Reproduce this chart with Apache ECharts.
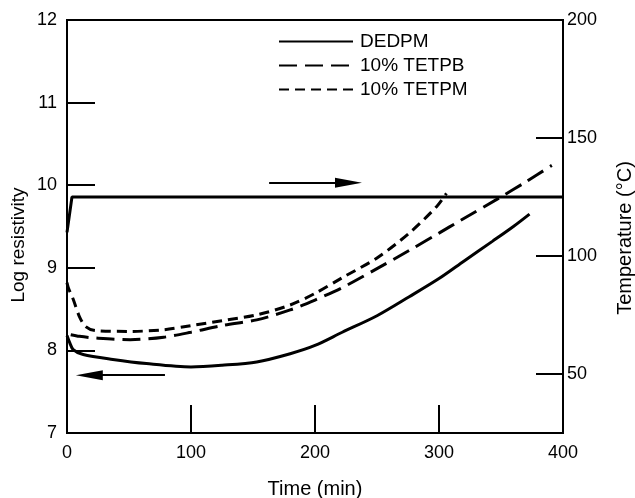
<!DOCTYPE html>
<html>
<head>
<meta charset="utf-8">
<script src="https://cdn.jsdelivr.net/npm/echarts@6/dist/echarts.min.js"></script>
<style>html,body{margin:0;padding:0;background:#fff}#c{width:635px;height:498px}</style>
</head>
<body>
<div id="c"></div>
<script>
// ---- data ----
const dedpmTime = [0, 2, 5, 13, 37, 64, 100, 125, 153, 180, 200, 222, 250, 276, 300, 320, 343, 360, 373];
const dedpmLog  = [8.18, 8.10, 8.01, 7.95, 7.89, 7.84, 7.80, 7.82, 7.86, 7.96, 8.06, 8.22, 8.42, 8.65, 8.87, 9.08, 9.32, 9.50, 9.65];

const tetpbTime = [3, 10, 23, 51, 78, 100, 125, 153, 180, 200, 222, 250, 276, 300, 317, 349, 370, 391];
const tetpbLog  = [8.19, 8.17, 8.15, 8.13, 8.16, 8.22, 8.30, 8.37, 8.49, 8.61, 8.76, 8.99, 9.21, 9.42, 9.57, 9.85, 10.04, 10.24];

const tetpmTime = [0, 1, 5, 10, 15, 23, 51, 78, 100, 125, 153, 180, 200, 222, 250, 276, 298, 306];
const tetpmLog  = [8.82, 8.76, 8.62, 8.41, 8.29, 8.24, 8.23, 8.25, 8.30, 8.36, 8.43, 8.55, 8.69, 8.88, 9.12, 9.42, 9.74, 9.90];

const tempTime = [0, 4, 400];
const tempC    = [110, 125, 125];

const seriesNames = ['DEDPM', '10% TETPB', '10% TETPM'];
const xTicks = [0, 100, 200, 300, 400];
const leftTicks = [7, 8, 9, 10, 11, 12];
const rightTicks = [50, 100, 150, 200];

// arrows (annotation): [tailTime, tipTime, level]
const arrowRight = [163, 227, 131];   // on temperature axis
const arrowLeft  = [79, 18, 7.70];    // on log resistivity axis

const zip = (a, b) => a.map((v, i) => [v, b[i]]);
const FONT = 'Liberation Sans, Arial, Helvetica, sans-serif';
const arrowSym = 'path://M5,0 L10,27 L0,27 Z';

const chart = echarts.init(document.getElementById('c'), null, {renderer: 'canvas'});
chart.setOption({
  animation: false,
  backgroundColor: '#fff',
  textStyle: {fontFamily: FONT, color: '#000'},
  grid: {left: 67, right: 72, top: 20, bottom: 65, containLabel: false, outerBoundsMode: 'none',
         show: true, borderColor: '#000', borderWidth: 2, backgroundColor: 'transparent'},
  legend: {
    data: seriesNames,
    orient: 'vertical',
    left: 278, top: 32,
    itemWidth: 74, itemHeight: 14, itemGap: 5,
    padding: 0,
    itemStyle: {opacity: 0},
    textStyle: {fontFamily: FONT, fontSize: 19, color: '#000', padding: [0, 0, 0, 2]}
  },
  xAxis: {
    type: 'value', min: 0, max: 400,
    name: 'Time (min)', nameLocation: 'middle', nameGap: 46,
    nameTextStyle: {fontFamily: FONT, fontSize: 20, color: '#000'},
    axisLine: {lineStyle: {color: '#000', width: 2}},
    axisTick: {inside: true, length: 28, lineStyle: {color: '#000', width: 2}, customValues: xTicks},
    axisLabel: {color: '#000', fontSize: 18, fontFamily: FONT, margin: 11, customValues: xTicks},
    splitLine: {show: false}
  },
  yAxis: [{
    type: 'value', min: 7, max: 12, position: 'left',
    axisLine: {show: true, lineStyle: {color: '#000', width: 2}},
    axisTick: {show: true, inside: true, length: 28, lineStyle: {color: '#000', width: 2}, customValues: leftTicks},
    axisLabel: {color: '#000', fontSize: 18, fontFamily: FONT, margin: 10, customValues: leftTicks},
    splitLine: {show: false}
  }, {
    type: 'value', min: 25, max: 200, position: 'right',
    axisLine: {show: true, lineStyle: {color: '#000', width: 2}},
    axisTick: {show: true, inside: true, length: 27, lineStyle: {color: '#000', width: 2}, customValues: rightTicks},
    axisLabel: {color: '#000', fontSize: 18, fontFamily: FONT, margin: 4, customValues: rightTicks},
    splitLine: {show: false}
  }],
  graphic: [
    {type: 'text', x: 19, y: 245, rotation: Math.PI / 2,
     style: {text: 'Log resistivity', font: '19px ' + FONT, fill: '#000', align: 'center', verticalAlign: 'middle'}},
    {type: 'text', x: 625, y: 238, rotation: Math.PI / 2,
     style: {text: 'Temperature (°C)', font: '20px ' + FONT, fill: '#000', align: 'center', verticalAlign: 'middle'}}
  ],
  series: [
    {
      name: 'DEDPM', type: 'line', yAxisIndex: 0, data: zip(dedpmTime, dedpmLog),
      showSymbol: false, symbol: 'none', smooth: 0.3,
      lineStyle: {color: '#000', width: 3, type: 'solid'}, itemStyle: {color: '#000'},
      markLine: {
        silent: true, symbol: ['none', arrowSym], symbolSize: [10, 27],
        label: {show: false},
        lineStyle: {color: '#000', width: 2, type: 'solid'},
        data: [[{coord: [arrowLeft[0], arrowLeft[2]]}, {coord: [arrowLeft[1], arrowLeft[2]]}]]
      }
    },
    {
      name: '10% TETPB', type: 'line', yAxisIndex: 0, data: zip(tetpbTime, tetpbLog),
      showSymbol: false, symbol: 'none', smooth: 0.3,
      lineStyle: {color: '#000', width: 3, type: [18, 8]}, itemStyle: {color: '#000'}
    },
    {
      name: '10% TETPM', type: 'line', yAxisIndex: 0, data: zip(tetpmTime, tetpmLog),
      showSymbol: false, symbol: 'none', smooth: 0.3,
      lineStyle: {color: '#000', width: 3, type: [10, 6]}, itemStyle: {color: '#000'}
    },
    {
      name: 'Temperature', type: 'line', yAxisIndex: 1, data: zip(tempTime, tempC),
      showSymbol: false, symbol: 'none',
      lineStyle: {color: '#000', width: 3}, itemStyle: {color: '#000'},
      markLine: {
        silent: true, symbol: ['none', arrowSym], symbolSize: [10, 27],
        label: {show: false},
        lineStyle: {color: '#000', width: 2, type: 'solid'},
        data: [[{coord: [arrowRight[0], arrowRight[2]]}, {coord: [arrowRight[1], arrowRight[2]]}]]
      }
    }
  ]
});
</script>
</body>
</html>
